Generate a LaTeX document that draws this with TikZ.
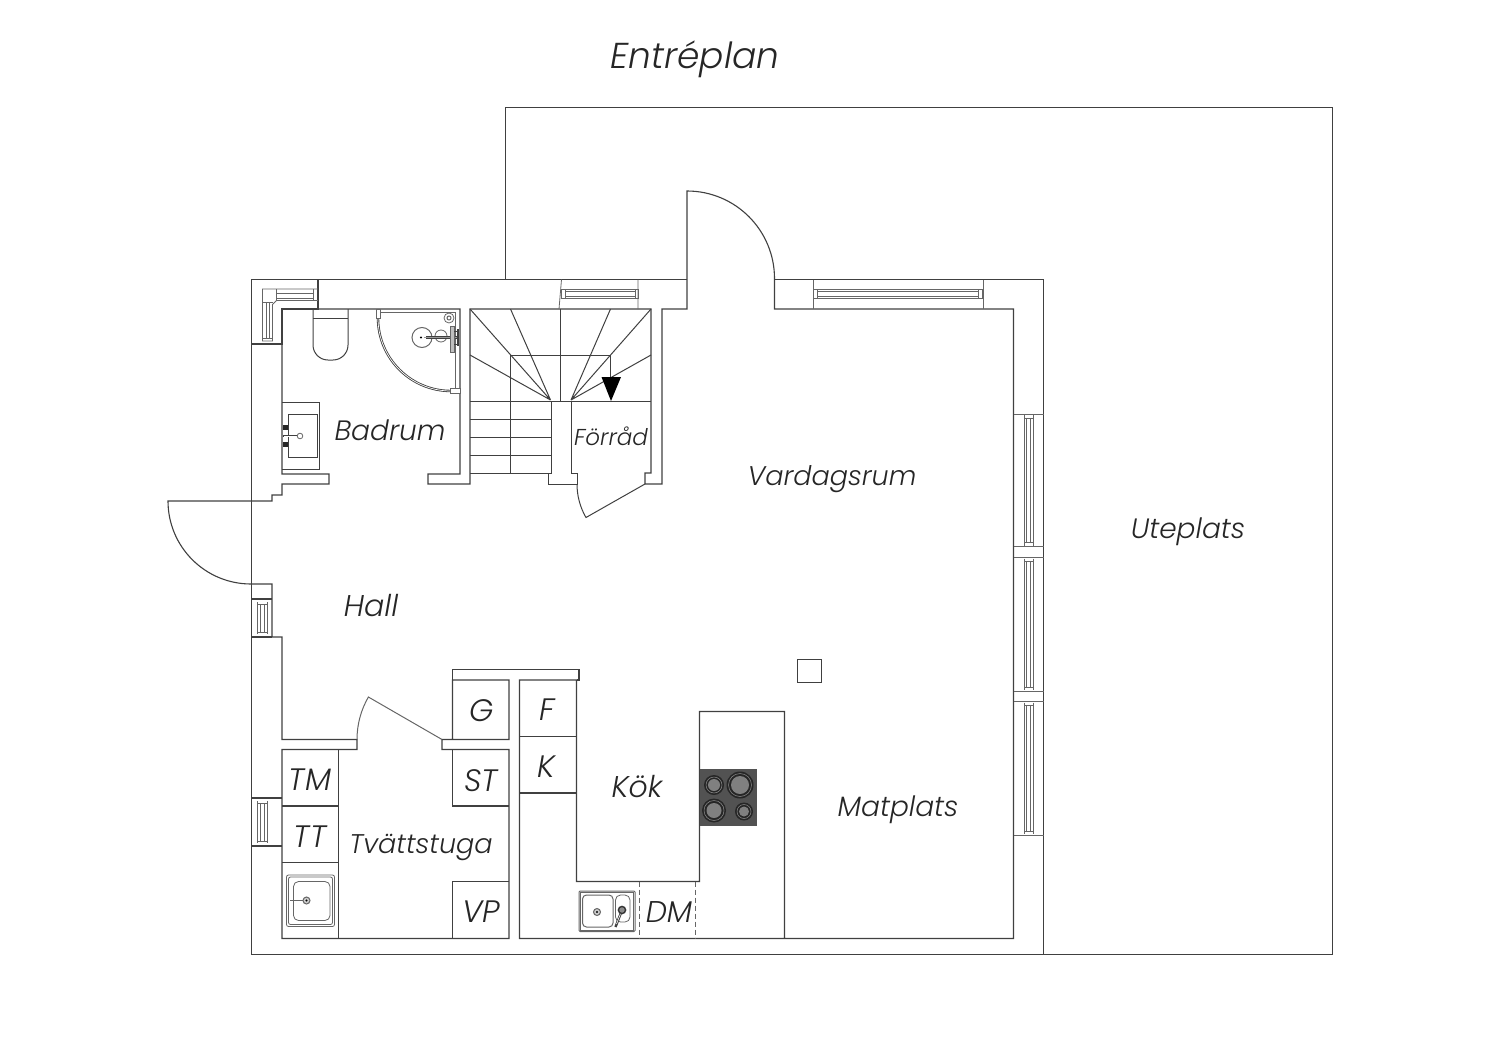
\documentclass[tikz,border=0pt]{standalone}
\usepackage{fontspec}
\setmainfont{Poppins}[UprightFont=* Light,ItalicFont=* Light Italic]
\definecolor{ink}{HTML}{404040}
\tikzset{
  wall/.style={draw=ink,line width=1.1pt,line join=miter},
  fine/.style={draw=ink!80,line width=.8pt},
  lab/.style={font=\fontsize{28}{32}\selectfont\itshape,text=black!85,inner sep=0pt,anchor=center},
  labn/.style={lab,font=\fontsize{27}{31}\selectfont\itshape},
  labc/.style={lab,font=\fontsize{31}{35}\selectfont\itshape},
  labs/.style={font=\fontsize{23}{27}\selectfont\itshape,text=black!85,inner sep=0pt,anchor=center},
}
\begin{document}
\begin{tikzpicture}[x=1pt,y=-1pt]
\useasboundingbox (0,0) rectangle (1500,1060);
% terrace
\draw[draw=ink,line width=1pt] (505,279.5)--(505,107)--(1332,107)--(1332,954.5)--(1043.5,954.5);
% outer walls
\draw[wall,line width=1pt] (687,279.5)--(251.5,279.5)--(251.5,954.5)--(1043.5,954.5)--(1043.5,279.5)--(774.5,279.5);
% top-left inner
\draw[wall] (318,279.5)--(318,309)--(282,309)--(282,344)--(251.5,344);
\draw[wall] (318,309)--(460,309)--(460,474)--(428,474)--(428,484)--(470,484)--(470,309)--(651,309)--(651,473)--(645,473)--(645,484)--(662,484)--(662,309)--(687,309)--(687,191) arc[start angle=-90,end angle=0,radius=87.5]--(774.5,309)--(1013.5,309)--(1013.5,938.5)--(519.5,938.5)--(519.5,680)--(576.5,680)--(576.5,881.5)--(699.5,881.5)--(699.5,711.5)--(784.5,711.5)--(784.5,938.5);
% bath lower wall and entrance
\draw[wall] (282,344)--(282,474)--(329,474)--(329,484)--(282,484)--(282,495)--(272,495)--(272,501)--(168,501) arc[start angle=180,end angle=90,radius=83]--(272,584)--(272,637)--(282,637)--(282,739.5)--(357,739.5)--(357,749.5)--(282,749.5)--(282,938.5)--(509,938.5)--(509,749.5)--(442,749.5)--(442,739.5)--(509,739.5)--(509,680)--(452.5,680)--(452.5,739.5);
\draw[wall] (251.5,599)--(272,599) (251.5,637)--(272,637);
\draw[wall] (251.5,798)--(282,798) (251.5,846)--(282,846);
% laundry door
\draw[fine,line width=1pt] (357,739.5) arc[start angle=180,end angle=210,radius=85]--(442,739.5);
% counter top
\draw[wall] (452.5,680)--(452.5,669.5)--(579,669.5)--(579,680)--(576.5,680);
% laundry fixtures
\draw[wall] (338.5,749.5)--(338.5,938.5) (282,806)--(338.5,806) (282,862.5)--(338.5,862.5);
\draw[wall] (452.5,749.5)--(452.5,806)--(509,806) (452.5,938.5)--(452.5,881.5)--(509,881.5);
% kitchen
\draw[wall] (519.5,736.5)--(576.5,736.5) (519.5,793)--(576.5,793);
\draw[fine,dash pattern=on 5pt off 3pt] (639,881.5)--(639,938.5) (695.5,881.5)--(695.5,938.5);
\fill[black!68] (699.5,768.5) rectangle (756.5,825.5);
\foreach \cx/\cy/\ra/\rb in {714/785/10/6,740/785/13.5/9,714/810.5/12/7.5,744/811.5/9/5}{
  \fill[black!85] (\cx,\cy) circle[radius=\ra];
  \draw[black!45,line width=.5pt] (\cx,\cy) circle[radius=\ra-2];
  \fill[black!50] (\cx,\cy) circle[radius=\rb];
}
\draw[fine,line width=1pt,rounded corners=1pt] (579,891) rectangle (635,931.5);
\draw[fine] (580.5,892.5) rectangle (633.5,930);
\draw[fine,line width=1pt,rounded corners=4pt] (582.5,895) rectangle (613,927);
\draw[fine,rounded corners=5pt] (615.5,895) rectangle (630,922);
\draw[fine,line width=1pt,fill=black!20] (597,912) circle[radius=3.5];
\fill[black] (597,912) circle[radius=1.2];
\draw[ink,line width=2.4pt] (622,910)--(615.5,927);
\draw[white,line width=.6pt] (621,912.5)--(616.5,924);
\draw[black!80,line width=1.4pt,fill=black!45] (622,910) circle[radius=3.6];
% pillar
\draw[wall,line width=1pt] (797,659) rectangle (821,682);
% laundry sink
\draw[fine,rounded corners=2pt] (286.5,875) rectangle (334.5,926.5);
\draw[fine,rounded corners=2pt] (288.5,877) rectangle (332.5,924.5);
\draw[fine,rounded corners=5pt] (293.5,881.5) rectangle (330,920.5);
\draw[fine,line width=1pt,fill=black!20] (306.5,900.5) circle[radius=3.5];
\fill[black] (306.5,900.5) circle[radius=1.2];
\draw[fine,line width=1.2pt] (290,900.5)--(303,900.5);
% windows, top
\draw[fine] (813,279.5)--(813,309) (983,279.5)--(983,309);
\draw[fine,line width=1pt] (813.5,289) rectangle (982.5,298);
\draw[fine] (817,291.5) rectangle (978.5,296);
\draw[fine] (817,289)--(817,298) (978.5,289)--(978.5,298);
\draw[fine] (561.5,279.5)--(559,309) (638,279.5)--(638,309);
\draw[fine,line width=1pt] (561.5,289) rectangle (638,298);
\draw[fine] (565.5,291.5) rectangle (635,296);
\draw[fine] (565.5,289)--(565.5,298) (635,289)--(635,298);
% windows, right
\foreach \ya/\yb in {414/546.5,557.5/691,701.5/835}{
  \draw[fine] (1013.5,\ya)--(1043.5,\ya) (1013.5,\yb)--(1043.5,\yb);
  \draw[fine] (1024,\ya+1)--(1024,\yb-1) (1033,\ya+1)--(1033,\yb-1);
  \draw[fine] (1026.5,\ya+4)--(1026.5,\yb-4) (1030,\ya+4)--(1030,\yb-4);
  \draw[fine] (1024,\ya+4)--(1033,\ya+4) (1024,\yb-4)--(1033,\yb-4);
}
% windows, left
\foreach \ya/\yb in {600/636,799/845}{
  \draw[fine] (257.5,\ya+2)--(257.5,\yb-2) (267,\ya+2)--(267,\yb-2);
  \draw[fine] (260,\ya+4)--(260,\yb-4) (264.5,\ya+4)--(264.5,\yb-4);
  \draw[fine] (257.5,\ya+4)--(267,\ya+4) (257.5,\yb-4)--(267,\yb-4);
}
% corner window
\draw[fine] (318,289)--(262.5,289)--(262.5,341)--(272.5,341)--(272.5,304.5)--(276.5,300.5)--(318,300.5);
\draw[fine] (276.5,289)--(276.5,300.5) (262.5,302.5)--(272.5,302.5);
\draw[fine] (276.5,293.5)--(313.5,293.5) (276.5,298)--(313.5,298);
\draw[fine] (266.5,302.5)--(266.5,338) (269.5,302.5)--(269.5,338);
\draw[fine] (313.5,289)--(313.5,300.5) (262.5,338)--(272.5,338);
% toilet
\draw[wall,line width=1pt] (313,309)--(313,345) arc[start angle=180,end angle=90,radius=15]--(333,360) arc[start angle=90,end angle=0,radius=15]--(348,309);
\draw[wall,line width=1pt] (313,318.5)--(348,318.5);
% shower
\draw[draw=ink,line width=2.4pt] (378,318) arc[start angle=180,end angle=90,radius=73]--(452,391);
\draw[white,line width=.7pt] (378,318) arc[start angle=180,end angle=90,radius=73];
\draw[fine] (378,312.5)--(455,312.5)--(455,391);
\draw[fine,line width=1pt,fill=white] (376.5,309.5) rectangle (380,318.5);
\draw[fine,line width=1pt,fill=white] (450,388.5) rectangle (460,393);
\draw[fine,line width=1pt] (422,337.5) circle[radius=10];
\draw[fine] (441,336) circle[radius=6];
\draw[fine] (449,318) circle[radius=5];
\draw[fine,line width=1pt] (449,318) circle[radius=2];
\draw[ink,line width=3pt] (426,337.5)--(458,337.5);
\draw[black!40,line width=1.4pt] (424,337.5)--(458,337.5);
\fill[black] (421,337.5) circle[radius=1.2];
\draw[fine,fill=black!25,line width=.8pt] (450,326) rectangle (454,352);
\draw[ink,line width=2pt] (458,329)--(458,346);
\draw[ink,line width=1pt] (454,331)--(458,331) (454,344)--(458,344);
% bath sink
\draw[wall,line width=1pt] (282,402)--(319,402)--(319,469)--(282,469);
\draw[wall,line width=1pt] (288,414) rectangle (317,457);
\fill[black!85] (282.5,424.5) rectangle (288,430);
\fill[black!85] (282.5,441.5) rectangle (288,447);
\draw[ink,line width=2.4pt] (283,436)--(298,436);
\draw[white,line width=.6pt] (284,436)--(298,436);
\draw[fine,fill=white] (300,436) circle[radius=2.8];
% stairs
\draw[wall,line width=1pt] (470,473)--(551,473)--(551,401)--(571,401)--(571,473)--(577,473)--(577,484)--(548,484)--(548,473);
\draw[wall,line width=1pt] (470,401)--(551,401) (470,419)--(551,419) (470,437)--(551,437) (470,455)--(551,455);
\draw[wall,line width=1pt] (510.5,355)--(510.5,473) (510.5,355)--(610.5,355)--(610.5,377);
\draw[wall,line width=1pt] (560,309)--(560,401);
\draw[wall,line width=1pt] (550.5,400)--(470,309) (550.5,400)--(510.5,309) (550.5,400)--(470,355);
\draw[wall,line width=1pt] (571,400)--(651,309) (571,400)--(610.5,309) (571,400)--(651,355);
\draw[wall,line width=1pt] (571,401)--(651,401);
\fill[black] (601.5,377)--(621,377)--(611,401)--cycle;
% store door
\draw[wall,line width=1pt] (577,484) arc[start angle=180,end angle=150,radius=67]--(645,484);
% labels
\node[lab,font=\fontsize{36}{40}\selectfont\itshape] (entre) at (695,59) {Entréplan};
\node[lab] (ute) at (1188,532) {Uteplats};
\node[labn] (vard) at (832,479) {Vardagsrum};
\node[lab] (bad) at (390,430) {Badrum};
\node[labs] (forr) at (611,436.5) {Förråd};
\node[lab,font=\fontsize{30}{34}\selectfont\itshape] (hall) at (371,606) {Hall};
\node[lab,font=\fontsize{30}{34}\selectfont\itshape] (kok) at (637,787) {Kök};
\node[lab] (mat) at (898,810) {Matplats};
\node[labn] (tvatt) at (421,847) {Tvättstuga};
\node[labc] (g) at (482,711) {G};
\node[labc] (f) at (547,710) {F};
\node[labc] (k) at (546,767) {K};
\node[labc] (tm) at (310,780) {TM};
\node[labc] (tt) at (310,837) {TT};
\node[labc] (st) at (481,781) {ST};
\node[labc] (vp) at (481,912) {VP};
\node[lab,font=\fontsize{30}{34}\selectfont\itshape] (dm) at (669,912) {DM};
\end{tikzpicture}
\end{document}
